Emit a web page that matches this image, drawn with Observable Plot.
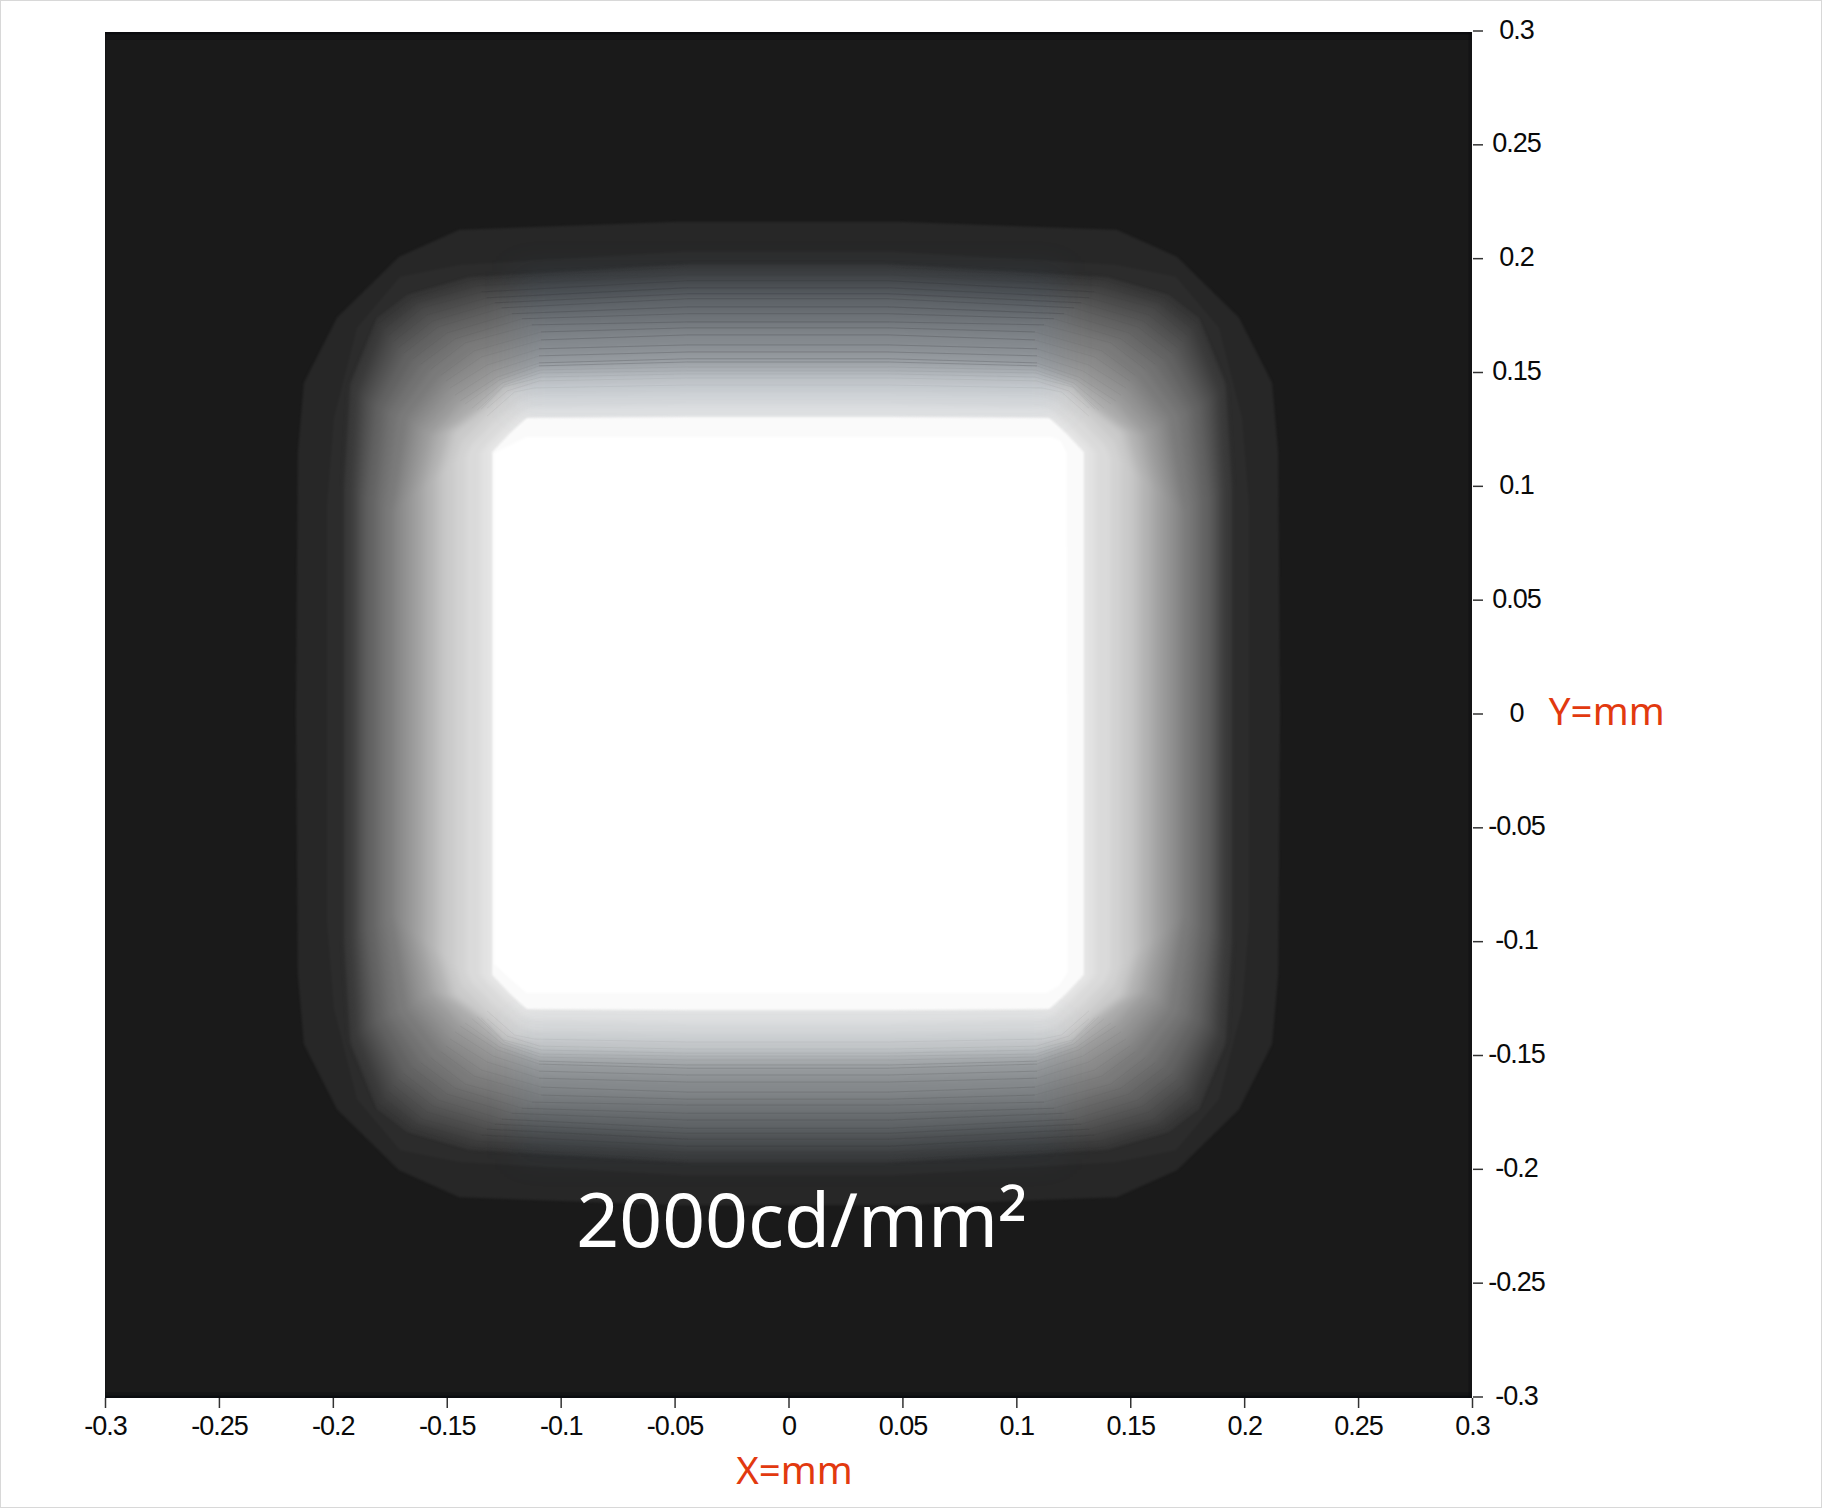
<!DOCTYPE html>
<html>
<head>
<meta charset="utf-8">
<script src="https://cdn.jsdelivr.net/npm/d3@7"></script>
<script src="https://cdn.jsdelivr.net/npm/@observablehq/plot@0.6"></script>
<style>
html,body{margin:0;padding:0;background:#fff}
svg{display:block;outline:1px solid #d8d8d8;outline-offset:-1px}
</style>
</head>
<body>
<div id="chart"></div>
<script>
const tickValues = [-0.3,-0.25,-0.2,-0.15,-0.1,-0.05,0,0.05,0.1,0.15,0.2,0.25,0.3];
const xLabel = "X=mm";
const yLabel = "Y=mm";
const luminanceLabel = "2000cd/mm²";
const backgroundGray = 26;

// iso-luminance contours: grey level, and one quadrant's vertices in micrometres
const contourGrays = [39,44,52,58,66,74,82,90,98,106,114,122,130,138,146,154,162,170,178,186,194,202,210,218,226,232,250];
const contourQuadrants = [
 [[216,0],[215.2,114.4],[212.5,145.2],[198,173.8],[170.7,200.6],[144.3,212.5],[48.4,216]],
 [[202.4,0],[202.4,91.5],[199.3,129.8],[189.2,169.4],[170.3,191.8],[143.9,197.1],[47.1,202.8]],
 [[194.5,0],[194.5,101.2],[191.8,145.6],[180.4,173.8],[167.2,183.9],[140.8,191.4],[44,197.1]],
 [[194.5,0],[194.5,99],[191.8,143],[179.5,171.6],[165,182.6],[138.6,190.5],[44,196.2]],
 [[191.4,0],[191.4,97.7],[188.8,140.8],[176.9,169.4],[162.8,180.4],[136.4,187.9],[44,192.7]],
 [[189.6,0],[189.6,96.8],[187,139.5],[175.1,166.3],[160.6,178.2],[134.2,185.2],[44,190.1]],
 [[188.3,0],[188.3,95.9],[185.2,137.7],[172.9,163.7],[158.4,175.1],[132,182.6],[44,187]],
 [[186.6,0],[186.6,95],[183,136.4],[170.7,161],[155.8,172.5],[128.5,180.4],[44,184.4]],
 [[184.8,0],[184.8,94.2],[180.8,135.1],[168.5,158.4],[153.6,169.8],[125.4,178.2],[44,182.2]],
 [[181.7,0],[181.7,93.3],[177.8,133.8],[164.6,155.8],[149.6,167.2],[121,175.6],[44,178.6]],
 [[179.5,0],[179.5,92],[175.1,132.4],[161,153.6],[146.1,164.6],[116.6,173.4],[44,175.6]],
 [[176.9,0],[176.9,90.6],[171.6,131.1],[156.6,151.4],[141.7,162.8],[112.2,170.7],[44,172]],
 [[173.8,0],[173.8,88],[167.2,129.8],[152.2,148.7],[137.7,159.3],[108.2,167.6],[44,169.4]],
 [[171.6,0],[171.6,90.2],[165,127.6],[150,146.1],[134.6,156.6],[108.2,164.1],[44,166.3]],
 [[169,0],[169,92.4],[162.8,125.4],[148.3,143],[132,153.1],[109.1,160.2],[44,161.9]],
 [[166.3,0],[166.3,94.6],[160.2,124.1],[146.1,139.9],[129.4,150.5],[109.1,157.1],[44,158.8]],
 [[163.7,0],[163.7,96.8],[157.5,122.8],[143.9,137.3],[127.6,147.8],[109.1,154],[44,155.8]],
 [[161,0],[161,98.6],[155.3,122.3],[141.7,136],[126.7,146.5],[109.1,152.7],[44,154.4]],
 [[158.8,0],[158.8,100.3],[152.7,122.8],[138.6,134.2],[125.4,145.2],[108.7,150.9],[44,152.2]],
 [[155.8,0],[155.8,102.1],[149.6,123.6],[136.4,133.3],[124.5,144.3],[108.7,149.6],[44,150.5]],
 [[153.6,0],[153.6,103.8],[147.8,123.6],[134.6,133.8],[125,143.4],[108.2,147.8],[44,149.2]],
 [[150.9,0],[150.9,105.6],[145.6,123.6],[132,134.2],[123.2,141.7],[109.1,146.1],[44,147.4]],
 [[146.5,0],[146.5,110],[143.4,119.2],[132,130.7],[120.1,141.2],[111.3,143],[44,144.3]],
 [[141.7,0],[141.7,112.2],[139.9,117],[129.8,127.6],[117.9,137.3],[111.8,139.5],[44,140.8]],
 [[135.1,0],[135.1,114.4],[133.3,117],[125.4,125.4],[116.6,132.9],[112.2,134.6],[44,136]],
 [[130.7,0],[130.7,115.3],[129.8,117],[123.2,123.2],[116.6,128.9],[113.5,129.8],[44,130.7]],
 [[129.8,0],[129.8,114.8],[128.5,116.2],[121.9,123.2],[115.7,128.9],[114.4,129.8],[44,130.2]]
];
// saturated core (not symmetric: its left edge reaches further out)
const coreRing = [[-114.8,121.4],[115.7,121.4],[119.7,119.7],[122.3,114.4],[122.8,-113.5],[118.8,-119.7],[113.5,-122.8],[-114.8,-122.8],[-121.9,-116.6],[-128.9,-110],[-128.9,114.4]];
const coreGray = 255;

// which contours show up as thin darker lines across the shoulders
const shoulderLineLevels = [5,6,7,8,9,10,11,12,13,14,15,16,17];

const mm = v => v / 1000;
const grayCss = g => `rgb(${g},${g},${g})`;

const outerPoints = [], midPoints = [], brightPoints = [];
const upperLines = [], lowerLines = [], upperStreaks = [], lowerStreaks = [];
const acrossTop = pts => [...pts, ...[...pts].reverse().map(([a, b]) => [-a, b])];
contourQuadrants.forEach((q, i) => {
  const r = [...q].reverse();
  const ring = [
    ...r,
    ...q.map(([a, b]) => [a, -b]),
    ...r.map(([a, b]) => [-a, -b]),
    ...q.map(([a, b]) => [-a, b])
  ];
  const target = i < 3 ? outerPoints : i < contourQuadrants.length - 1 ? midPoints : brightPoints;
  ring.forEach(([a, b]) => target.push({level: i, x: mm(a), y: mm(b), color: grayCss(contourGrays[i])}));
  const add = (list, pts, s) => pts.forEach(([a, b]) => list.push({level: i, x: mm(a), y: mm(s * b)}));
  if (shoulderLineLevels.includes(i)) {
    add(upperLines, acrossTop(q.slice(5)), 1);
    add(lowerLines, acrossTop(q.slice(5)), -1);
  }
  if (i > 2 && i < 23) {
    add(upperStreaks, acrossTop(q.slice(3)), 1);
    add(lowerStreaks, acrossTop(q.slice(3)), -1);
  }
});
coreRing.forEach(([a, b]) => brightPoints.push({level: contourGrays.length, x: mm(a), y: mm(b), color: grayCss(coreGray)}));

const edgeBands = [
  {x1:-0.3, x2:0.3, y1:0.3, y2:0.2990, o:0.6},
  {x1:-0.3, x2:0.3, y1:0.3, y2:0.2965, o:0.3},
  {x1:-0.3, x2:0.3, y1:-0.3, y2:-0.2990, o:0.6},
  {x1:-0.3, x2:0.3, y1:-0.3, y2:-0.2975, o:0.25},
  {x1:0.2985, x2:0.3, y1:-0.3, y2:0.3, o:0.3},
  {x1:-0.3, x2:-0.2995, y1:-0.3, y2:0.3, o:0.25}
];
// cool tint of the upper and lower shoulders
const tintBands = [
  {x1:-0.12, x2:0.12, y1:0.135, y2:0.195, o:0.09},
  {x1:-0.12, x2:0.12, y1:-0.195, y2:-0.135, o:0.06}
];

const hair = (pts, o) => Plot.line(pts, {x:"x", y:"y", z:"level", stroke:"#2a2c30", strokeOpacity:o, strokeWidth:1, dx:-1, dy:-2});

const chart = Plot.plot({
  width: 1822,
  height: 1508,
  marginLeft: 105,
  marginRight: 350,
  marginTop: 32,
  marginBottom: 110,
  x: {domain: [-0.3, 0.3], axis: null},
  y: {domain: [-0.3, 0.3], axis: null},
  color: {type: "identity"},
  style: {background: "#fff", overflow: "visible"},
  marks: [
    Plot.rect([{}], {x1: -0.3, x2: 0.3, y1: -0.3, y2: 0.3, fill: grayCss(backgroundGray), inset: 0}),
    Plot.rect(edgeBands, {x1:"x1", x2:"x2", y1:"y1", y2:"y2", fill:"#05070b", fillOpacity:"o", inset:0}),
    Plot.line(outerPoints, {x:"x", y:"y", z:"level", fill:"color", stroke:"none", dx:-1, dy:-2, imageFilter:"blur(1px)"}),
    Plot.line(midPoints, {x:"x", y:"y", z:"level", fill:"color", stroke:"none", dx:-1, dy:-2, imageFilter:"blur(2.5px)"}),
    Plot.rect(tintBands, {x1:"x1", x2:"x2", y1:"y1", y2:"y2", fill:"#4a80b8", fillOpacity:"o", inset:0, imageFilter:"blur(16px)"}),
    hair(upperStreaks, 0.05),
    hair(lowerStreaks, 0.05),
    hair(upperLines, 0.16),
    hair(lowerLines, 0.09),
    Plot.line(brightPoints, {x:"x", y:"y", z:"level", fill:"color", stroke:"none", dx:-1, dy:-2, imageFilter:"blur(1px)"}),
    Plot.axisX({anchor:"bottom", ticks:tickValues, tickSize:10, tickPadding:7, tickFormat:d=>String(d), stroke:"#333", strokeWidth:1.5, fill:"#0a0a0a", fontSize:27, fontFamily:"Liberation Sans", label:null}),
    Plot.axisY({anchor:"right", ticks:tickValues, tickSize:10, text:null, stroke:"#333", strokeWidth:1.5, label:null, dy:-1.5}),
    Plot.axisY({anchor:"right", ticks:tickValues, tickSize:0, tickPadding:44, tickFormat:d=>String(d), textAnchor:"middle", fill:"#0a0a0a", fontSize:27, fontFamily:"Liberation Sans", label:null, dy:-2.5}),
    Plot.text([luminanceLabel], {x:0.0057, y:-0.2231, text:d=>d, fill:"#fff", fontSize:75, fontFamily:"Noto Sans", textAnchor:"middle", lineAnchor:"middle"}),
    Plot.text([xLabel], {x:0.0024, y:-0.3320, text:d=>d, fill:"#e2390f", fontSize:38.5, fontFamily:"Noto Sans", textAnchor:"middle", lineAnchor:"middle"}),
    Plot.text([yLabel], {x:0.3335, y:0.0012, text:d=>d, fill:"#e2390f", fontSize:38.5, fontFamily:"Noto Sans", textAnchor:"start", lineAnchor:"middle"})
  ]
});
chart.querySelectorAll('[aria-label="x-axis tick label"] text, [aria-label="y-axis tick label"] text').forEach(t => { t.style.letterSpacing = "-1px"; });
// the superscript sits lower and is larger in the reference
chart.querySelectorAll('text').forEach(t => {
  if (t.textContent === luminanceLabel) {
    t.textContent = luminanceLabel.slice(0, -1);
    const s = document.createElementNS("http://www.w3.org/2000/svg", "tspan");
    s.textContent = luminanceLabel.slice(-1);
    s.setAttribute("font-size", "84");
    s.setAttribute("dy", "9");
    t.appendChild(s);
  }
});
document.getElementById("chart").appendChild(chart);
</script>
</body>
</html>
